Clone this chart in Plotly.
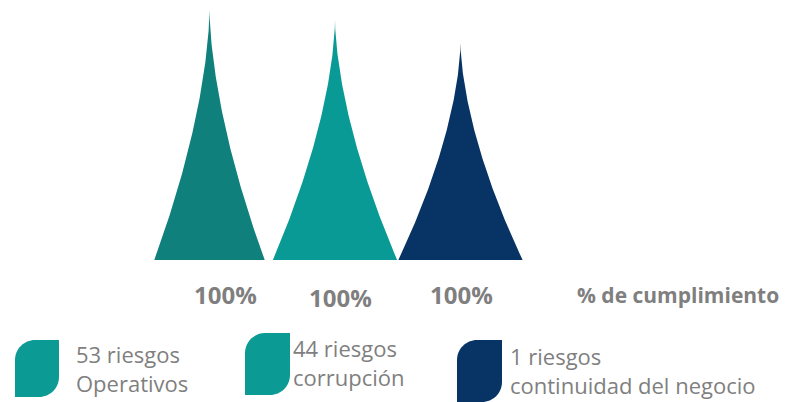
import numpy as np
import plotly.graph_objects as go

# Data
categorias = ["Operativos", "corrupción", "continuidad del negocio"]
riesgos = [53, 44, 1]
cumplimiento = [100, 100, 100]          # % de cumplimiento
altura_pico = [250, 240, 217]           # height of each spike (arbitrary units)
ancho_pico = [0.88, 0.99, 0.99]         # base width of each spike, in category slots
colores_pico = ["#0f807c", "#0a9a96", "#083465"]
colores_leyenda = ["#0c9a95", "#0c9a95", "#083465"]

W, H = 802, 402
STEP = 125.5        # pixels per category slot
X0 = 209.5          # pixel centre of the first category
BASE = 260          # pixel row of the spike bases

GRAY = "#7f7f7f"
FONT = "Open Sans"


def spike(center, width, height, p=1.65, n=140):
    """Concave-sided spike: half width shrinks as (1-h)^p towards the tip."""
    h = np.linspace(0, 1, n)
    half = width / 2 * (1 - h) ** p
    xs = np.concatenate([center - half, (center + half)[::-1]])
    ys = np.concatenate([h * height, (h * height)[::-1]])
    return xs, ys


fig = go.Figure()
for i, cat in enumerate(categorias):
    xs, ys = spike(i, ancho_pico[i], altura_pico[i])
    fig.add_trace(go.Scatter(
        x=xs, y=ys, mode="lines", fill="toself",
        fillcolor=colores_pico[i], line=dict(width=0, color=colores_pico[i]),
        hoverinfo="skip", showlegend=False, name=cat,
    ))


def px(x):
    return x / W


def py(y):
    return 1 - y / H


annotations = []
# percentage labels under each spike
pct_pos = [(225, 294), (340, 297), (461, 294)]
for (x, y), v in zip(pct_pos, cumplimiento):
    annotations.append(dict(
        x=px(x), y=py(y), xref="paper", yref="paper", text=f"<b>{v}%</b>",
        showarrow=False, xanchor="center", yanchor="middle",
        font=dict(family=FONT, size=24, color=GRAY),
    ))
annotations.append(dict(
    x=px(575), y=py(295), xref="paper", yref="paper",
    text="<b>% de cumplimiento</b>", showarrow=False,
    xanchor="left", yanchor="middle",
    font=dict(family=FONT, size=21, color=GRAY),
))

# legend: leaf swatch + two-line text
leg_swatch = [(15, 340, 59, 397), (245, 333, 290, 395), (457, 340, 502, 402)]
leg_text = [(74, 368), (291, 362), (508, 370)]
shapes = []
for i, cat in enumerate(categorias):
    x0, y0, x1, y1 = leg_swatch[i]
    r = 20
    path = (
        f"M {px(x0)},{py(y0 + r)} "
        f"C {px(x0)},{py(y0 + r * 0.45)} {px(x0 + r * 0.45)},{py(y0)} {px(x0 + r)},{py(y0)} "
        f"L {px(x1)},{py(y0)} L {px(x1)},{py(y1 - r)} "
        f"C {px(x1)},{py(y1 - r * 0.45)} {px(x1 - r * 0.45)},{py(y1)} {px(x1 - r)},{py(y1)} "
        f"L {px(x0)},{py(y1)} Z"
    )
    shapes.append(dict(type="path", path=path, xref="paper", yref="paper",
                       fillcolor=colores_leyenda[i], line=dict(width=0)))
    tx, ty = leg_text[i]
    annotations.append(dict(
        x=px(tx), y=py(ty), xref="paper", yref="paper",
        text=f"{riesgos[i]} riesgos<br>{cat}", showarrow=False,
        xanchor="left", yanchor="middle", align="left",
        font=dict(family=FONT, size=22, color=GRAY),
    ))

fig.update_layout(
    width=W, height=H,
    margin=dict(l=0, r=0, t=0, b=0),
    paper_bgcolor="white", plot_bgcolor="white",
    xaxis=dict(range=[-X0 / STEP, (W - X0) / STEP], visible=False, fixedrange=True),
    yaxis=dict(range=[BASE - H, BASE], visible=False, fixedrange=True),
    annotations=annotations, shapes=shapes,
)

fig.write_html("out.html", config={"displayModeBar": False})
